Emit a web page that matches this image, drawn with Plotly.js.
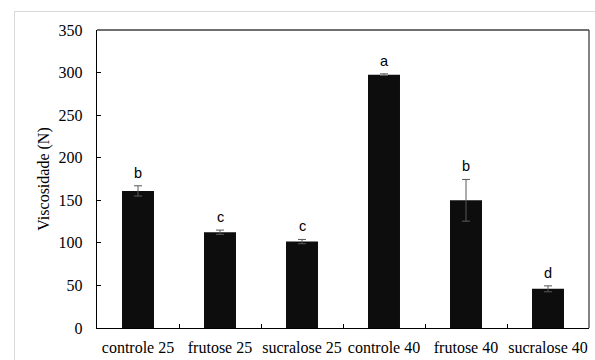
<!DOCTYPE html>
<html>
<head>
<meta charset="utf-8">
<script src="https://cdn.plot.ly/plotly-3.0.1.min.js"></script>
<style>
html,body{margin:0;padding:0;background:#fff;}
#frame{position:absolute;left:14px;top:11px;width:600px;height:400px;border-left:1px solid #d9d9d9;border-top:1px solid #d9d9d9;box-sizing:border-box;}
#chart{position:absolute;left:0;top:0;width:595px;height:360px;}
</style>
</head>
<body>
<div id="frame"></div>
<div id="chart"></div>
<script>
const categories = ["controle 25","frutose 25","sucralose 25","controle 40","frutose 40","sucralose 40"];
const values = [161, 112.5, 101.5, 297.5, 150, 46];
const errors = [6, 2.5, 2.5, 1, 24.5, 3.5];
const letters = ["b","c","c","a","b","d"];

const SERIF = "Liberation Serif";
const SANS = "Liberation Sans";

const trace = {
  type: "bar",
  x: categories,
  y: values,
  marker: {color: "#0d0d0d"},
  error_y: {type: "data", array: errors, visible: true, color: "#595959", thickness: 1, width: 4},
  hoverinfo: "none"
};

const annotations = categories.map((c, i) => ({
  x: c, y: values[i] + errors[i], xref: "x", yref: "y",
  text: letters[i], showarrow: false, yanchor: "bottom", yshift: 3,
  font: {family: SANS, size: 14.5, color: "#000"}
}));

const layout = {
  width: 595, height: 360,
  margin: {l: 97, r: 6, t: 30, b: 32},
  paper_bgcolor: "rgba(0,0,0,0)",
  plot_bgcolor: "rgba(0,0,0,0)",
  bargap: 0.61,
  showlegend: false,
  font: {family: SERIF, size: 16, color: "#000"},
  xaxis: {
    type: "category",
    showline: true, linecolor: "#000", linewidth: 1.3,
    ticks: "inside", tickson: "boundaries", ticklen: 4, tickcolor: "#000",
    tickangle: 0,
    tickfont: {family: SERIF, size: 16, color: "#000"},
    ticklabelstandoff: 4,
    showgrid: false, zeroline: false, fixedrange: true
  },
  yaxis: {
    range: [0, 350], tickvals: [0,50,100,150,200,250,300,350],
    showline: true, linecolor: "#000", linewidth: 1.3,
    ticks: "inside", ticklen: 4, tickcolor: "#000",
    tickfont: {family: SERIF, size: 16, color: "#000"},
    ticklabelstandoff: 10,
    showgrid: false, zeroline: false, fixedrange: true,
    title: {text: "Viscosidade (N)", font: {family: SERIF, size: 16, color: "#000"}, standoff: 5}
  },
  shapes: [
    {type: "line", xref: "paper", yref: "paper", x0: 0, x1: 1, y0: 1, y1: 1, line: {color: "#404040", width: 1.3}},
    {type: "line", xref: "paper", yref: "paper", x0: 1, x1: 1, y0: 0, y1: 1, line: {color: "#404040", width: 1.3}}
  ],
  annotations: annotations
};

Plotly.newPlot("chart", [trace], layout, {displayModeBar: false, staticPlot: true});
</script>
</body>
</html>
